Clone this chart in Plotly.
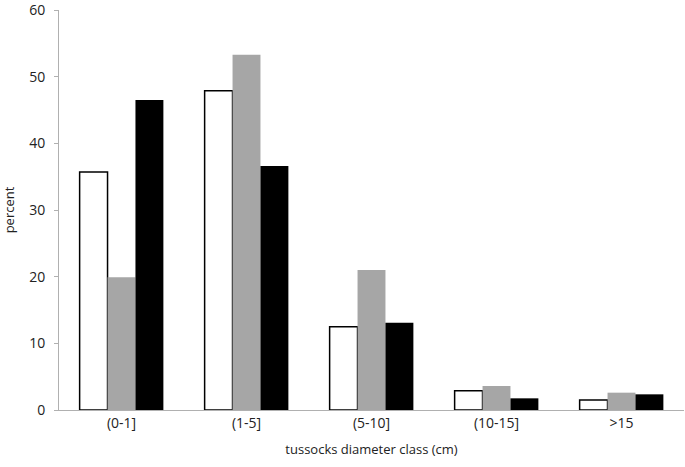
import plotly.graph_objects as go

# 直径分级
categories = ["(0-1]", "(1-5]", "(5-10]", "(10-15]", ">15"]
# 三组数据（白、灰、黑）
series_white = [35.7, 47.9, 12.5, 2.9, 1.5]
series_grey = [19.9, 53.3, 21.0, 3.6, 2.6]
series_black = [46.5, 36.6, 13.1, 1.75, 2.35]
y_ticks = [0, 10, 20, 30, 40, 50, 60]

fig = go.Figure()
fig.add_trace(go.Bar(x=categories, y=series_white, name="white",
                     marker=dict(color="white", line=dict(color="black", width=1.5))))
fig.add_trace(go.Bar(x=categories, y=series_grey, name="grey",
                     marker=dict(color="#a6a6a6", line=dict(width=0))))
fig.add_trace(go.Bar(x=categories, y=series_black, name="black",
                     marker=dict(color="black", line=dict(width=0))))

fig.update_layout(
    width=685, height=467,
    margin=dict(l=59, r=1, t=9.5, b=57, autoexpand=False),
    plot_bgcolor="white", paper_bgcolor="white",
    barmode="group", bargap=0.33, bargroupgap=0,
    showlegend=False,
    font=dict(family="Open Sans, Liberation Sans, sans-serif", size=13, color="#222"),
)
fig.update_xaxes(
    title_text="tussocks diameter class (cm)", title_font=dict(size=13),
    title_standoff=14,
    showline=True, linecolor="#b0b0b0", linewidth=1,
    ticks="", showgrid=False, tickfont=dict(size=14),
)
fig.update_yaxes(
    title_text="percent", title_font=dict(size=13), title_standoff=12,
    range=[0, 60.001], tickvals=y_ticks, ticklabeloverflow="allow",
    showline=True, linecolor="#b0b0b0", linewidth=1,
    ticks="outside", tickcolor="#b0b0b0", ticklen=4, ticklabelstandoff=6,
    showgrid=False, zeroline=False, tickfont=dict(size=14),
)

# 去掉页面默认边距，让图从左上角开始
fig.write_html("out.html", config={"displayModeBar": False},
               post_script="document.body.style.margin='0';")
